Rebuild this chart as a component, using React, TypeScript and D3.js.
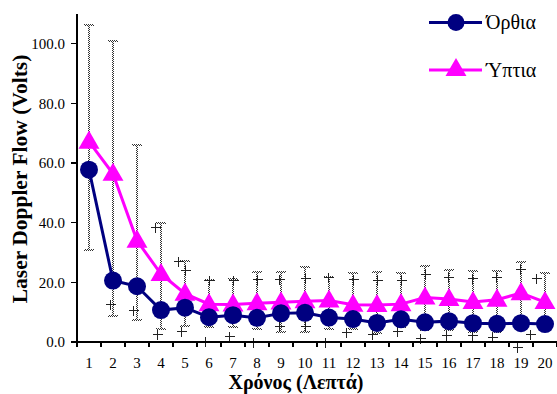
import React from "react";
import * as d3 from "d3";

// Time points (minutes)
const minutes = d3.range(1, 21);

// Mean laser Doppler flow, upright position (Όρθια)
const orthia = [57.8, 20.6, 18.7, 10.7, 11.5, 8.3, 9.0, 8.1, 9.6, 9.8, 8.2, 7.7, 6.4, 7.6, 6.6, 7.0, 6.3, 6.1, 6.3, 6.0];
// Mean laser Doppler flow, supine position (Ύπτια)
const yptia = [67.2, 56.4, 34.0, 22.8, 16.2, 12.7, 12.6, 13.0, 13.3, 13.7, 13.9, 12.5, 12.4, 12.7, 14.9, 14.4, 13.4, 14.2, 16.4, 13.4];

// Upper limit of the supine error bars and lower limit of the upright error bars
const yptiaUpper = [106.4, 101.0, 66.1, 39.8, 27.3, 20.8, 21.0, 23.4, 23.4, 25.3, 21.9, 23.0, 23.6, 23.3, 25.5, 24.2, 23.9, 23.9, 26.9, 23.3];
const orthiaLower = [30.9, 8.7, 7.4, 4.2, 5.4, 4.9, 4.9, 4.4, 3.5, 3.5, 4.4, 4.4, 2.9, 5.1, 4.0, 4.0, 3.5, 3.5, 5.8, 5.8];

// Individual readings marked with "+" (position in minutes, value in volts)
const plusMinute = [1.88, 2.85, 3.75, 3.82, 4.72, 5.0, 4.83, 5.83, 6.85, 7.82, 6.01, 7.01, 7.99, 8.93, 8.93, 10.0, 10.0, 10.83, 10.97, 11.7, 11.99, 12.78, 13.01, 13.82, 13.99, 14.79, 15.0, 15.88, 15.97, 16.95, 16.95, 17.78, 17.96, 18.82, 18.96, 19.38, 19.63];
const plusValue = [12.8, 10.7, 38.5, 2.7, 27.3, 24.2, 3.8, 0.3, 2.0, 0.0, 20.8, 20.8, 21.0, 21.0, 5.5, 21.4, 5.5, 0.0, 21.9, 3.2, 21.0, 2.7, 20.8, 3.8, 20.8, 1.2, 22.8, 2.3, 21.9, 2.3, 21.4, 1.8, 21.9, -1.6, 24.4, 2.7, 21.4];

const yTicks = [0, 20, 40, 60, 80, 100];

const NAVY = "#000080";
const MAGENTA = "#FF00FF";
const FONT = "Liberation Serif, DejaVu Serif, serif";

export default function App() {
  const width = 557;
  const height = 394;
  const left = 77;
  const right = 557;
  const top = 14;
  const bottom = 342;

  // Categories occupy equal bands; points sit in the band centres
  const x = d3.scaleLinear().domain([0.5, 20.5]).range([left, right]);
  const y = d3.scaleLinear().domain([0, 110]).range([bottom, top]);

  const line = d3
    .line<number>()
    .x((_, i) => x(minutes[i]))
    .y((d) => y(d));

  const tri = d3.symbol().type(d3.symbolTriangle).size(190)() as string;

  const boundaries = d3.range(0, 21).map((k) => k + 0.5);

  const capW = 10;

  return (
    <svg
      width={width}
      height={height}
      style={{ position: "absolute", left: 0, top: 0, fontFamily: FONT }}
    >
      <defs>
        <pattern id="dots" width="2" height="2" patternUnits="userSpaceOnUse">
          <rect width="2" height="2" fill="#fff" />
          <rect width="1" height="1" fill="#333" />
          <rect x="1" y="1" width="1" height="1" fill="#333" />
        </pattern>
      </defs>
      <rect width={width} height={height} fill="#fff" />

      {/* error bars */}
      <g>
        {minutes.map((m, i) => {
          const cx = Math.round(x(m));
          const yTop = Math.round(y(yptiaUpper[i]));
          const yBot = Math.round(y(orthiaLower[i]));
          return (
            <g key={m}>
              <rect x={cx - 1} y={yTop} width={2} height={yBot - yTop} fill="url(#dots)" />
              <rect x={cx - capW / 2} y={yTop - 1} width={capW} height={2} fill="url(#dots)" />
              <rect x={cx - capW / 2} y={yBot - 1} width={capW} height={2} fill="url(#dots)" />
            </g>
          );
        })}
      </g>

      {/* individual readings */}
      <g stroke="#222" strokeWidth={1} shapeRendering="crispEdges">
        {plusMinute.map((m, i) => {
          const px = Math.round(x(m)) + 0.5;
          const py = Math.round(y(plusValue[i])) + 0.5;
          return (
            <g key={i}>
              <line x1={px - 5} x2={px + 5} y1={py} y2={py} />
              <line x1={px} x2={px} y1={py - 5} y2={py + 5} />
            </g>
          );
        })}
      </g>

      {/* axes */}
      <g stroke="#000" strokeWidth={1.3} shapeRendering="crispEdges">
        <line x1={left} x2={left} y1={top} y2={bottom} />
        <line x1={left} x2={right} y1={bottom} y2={bottom} />
        {yTicks.map((t) => (
          <line key={t} x1={left - 6} x2={left} y1={y(t)} y2={y(t)} />
        ))}
        {boundaries.map((b) => (
          <line key={b} x1={x(b)} x2={x(b)} y1={bottom} y2={bottom + 5} />
        ))}
      </g>
      <g style={{ fontFamily: FONT }} fontSize={15} fill="#000">
        {yTicks.map((t) => (
          <text key={t} x={left - 12} y={y(t)} dy="0.35em" textAnchor="end">
            {t.toFixed(1)}
          </text>
        ))}
        {minutes.map((m) => (
          <text key={m} x={x(m)} y={368} textAnchor="middle">
            {m}
          </text>
        ))}
      </g>

      {/* series */}
      <path d={line(yptia) || ""} fill="none" stroke={MAGENTA} strokeWidth={3} />
      <path d={line(orthia) || ""} fill="none" stroke={NAVY} strokeWidth={3} />
      {yptia.map((v, i) => (
        <path key={i} d={tri} transform={`translate(${x(minutes[i])},${y(v) + 1})`} fill={MAGENTA} />
      ))}
      {orthia.map((v, i) => (
        <circle key={i} cx={x(minutes[i])} cy={y(v)} r={9} fill={NAVY} />
      ))}

      {/* axis titles */}
      <text
        x={296}
        y={389}
        textAnchor="middle"
        style={{ fontFamily: FONT, fontWeight: "bold", fontSize: 20 }}
      >
        Χρόνος (Λεπτά)
      </text>
      <text
        transform="translate(27,179) rotate(-90)"
        textAnchor="middle"
        style={{ fontFamily: FONT, fontWeight: "bold", fontSize: 21.5 }}
      >
        Laser Doppler Flow (Volts)
      </text>

      {/* legend */}
      <g>
        <line x1={429} x2={482} y1={22.5} y2={22.5} stroke={NAVY} strokeWidth={3} />
        <circle cx={456} cy={22.5} r={8.5} fill={NAVY} />
        <text x={486} y={29} style={{ fontFamily: FONT, fontSize: 20 }}>Όρθια</text>
        <line x1={429} x2={482} y1={70} y2={70} stroke={MAGENTA} strokeWidth={3} />
        <path d={tri} transform={`translate(456,70)`} fill={MAGENTA} />
        <text x={486} y={77} style={{ fontFamily: FONT, fontSize: 20 }}>Ύπτια</text>
      </g>
    </svg>
  );
}
